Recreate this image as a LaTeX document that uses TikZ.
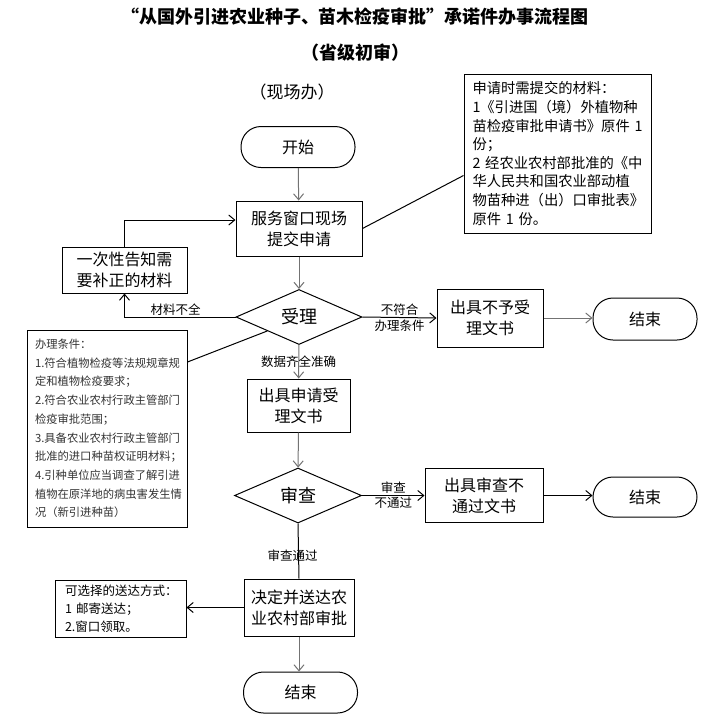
\documentclass[tikz,border=0pt]{standalone}
\usepackage{fontspec}
\setmainfont{Noto Sans CJK SC}
\usetikzlibrary{shapes.geometric,arrows.meta,calc}
\begin{document}
\begin{tikzpicture}[x=1pt,y=-1pt,
  box/.style={draw,line width=1pt,inner sep=0pt,align=center,font=\fontsize{16}{21}\selectfont},
  term/.style={box,rounded corners=20pt},
  dia/.style={draw,line width=1pt,diamond,inner sep=0pt,font=\fontsize{18}{22}\selectfont},
  note/.style={draw,line width=1pt,inner sep=0pt,align=left},
  lab/.style={font=\fontsize{12.5}{15}\selectfont,inner sep=1.5pt},
  arr/.style={-{Straight Barb[length=6pt,width=10pt]},line width=1pt},
  garr/.style={arr,draw=black!55},
  ln/.style={line width=1pt}
]
\useasboundingbox (0,0) rectangle (711,721);

\node[font=\fontsize{18}{22}\selectfont\bfseries] (title) at (355,17) {“从国外引进农业种子、苗木检疫审批”承诺件办事流程图};
\node[font=\fontsize{18}{22}\selectfont\bfseries] (sub) at (355,53) {（省级初审）};
\node[font=\fontsize{17}{20}\selectfont] (site) at (292,92) {（现场办）};

\node[term,minimum width=114pt,minimum height=41pt] (start) at (298,147) {开始};
\node[box,minimum width=126pt,minimum height=55pt] (submit) at (299,228.5) {服务窗口现场\\提交申请};
\node[note,minimum width=187pt,minimum height=159pt,text width=170pt,font=\fontsize{14.3}{18.6}\selectfont] (mat) at (557.5,153.5) {申请时需提交的材料：\\
1《引进国（境）外植物种\\
苗检疫审批申请书》原件~1\\
份；\\
2~经农业农村部批准的《中\\
华人民共和国农业部动植\\
物苗种进（出）口审批表》\\
原件~1~份。};
\node[box,minimum width=125pt,minimum height=46pt] (notify) at (124.5,270) {一次性告知需\\要补正的材料};
\node[dia,minimum width=126pt,minimum height=55pt] (accept) at (299,317) {受理};
\node[box,minimum width=106pt,minimum height=58pt] (noaccept) at (490,318) {出具不予受\\理文书};
\node[term,minimum width=104pt,minimum height=42pt] (end1) at (645,319) {结束};
\node[note,minimum width=160pt,minimum height=197pt,text width=144pt,font=\fontsize{11.3}{18.7}\selectfont,text=black!80] (cond) at (107,428.5) {办理条件：\\
1.符合植物检疫等法规规章规\\
定和植物检疫要求；\\
2.符合农业农村行政主管部门\\
检疫审批范围；\\
3.具备农业农村行政主管部门\\
批准的进口种苗权证明材料；\\
4.引种单位应当调查了解引进\\
植物在原洋地的病虫害发生情\\
况（新引进种苗）};
\node[box,minimum width=103pt,minimum height=53pt] (recv) at (298.5,405.5) {出具申请受\\理文书};
\node[dia,minimum width=127pt,minimum height=55pt] (review) at (298,495.5) {审查};
\node[box,minimum width=118pt,minimum height=54pt] (notpass) at (484,495.5) {出具审查不\\通过文书};
\node[term,minimum width=104pt,minimum height=40pt] (end2) at (645,497) {结束};
\node[box,minimum width=110pt,minimum height=57pt] (decide) at (299,607.5) {决定并送达农\\业农村部审批};
\node[note,minimum width=131pt,minimum height=57pt,text width=111pt,font=\fontsize{12.5}{18}\selectfont] (deliver) at (120.5,608.5) {可选择的送达方式：\\
1~邮寄送达；\\
2.窗口领取。};
\node[term,minimum width=114pt,minimum height=41pt] (end3) at (300.5,692.5) {结束};

\draw[garr] (start) -- (submit);
\draw[garr] (submit) -- (accept);
\draw[ln] (submit.east) -- ([yshift=-22pt]mat.west);
\draw[arr] (notify.north) |- ([yshift=8.5pt]submit.west);
\draw[arr] (accept.west) -| node[lab,pos=0.27,above]{材料不全} (notify.south);
\draw[arr] (accept.east) -- node[lab,above]{不符合} node[lab,below]{办理条件} (noaccept.west);
\draw[garr] (noaccept.east) -- (noaccept.east -| end1.west);
\draw[ln] ($(accept.west)!0.5!(accept.south)$) -- ([yshift=66.5pt]cond.east);
\draw[garr] (accept) -- node[lab]{数据齐全准确} (recv);
\draw[garr] (recv) -- (review);
\draw[arr] (review.east) -- node[lab,above]{审查} node[lab,below]{不通过} (notpass.west);
\draw[arr] (notpass.east) -- (notpass.east -| end2.west);
\draw[ln] (review.south) -- node[lab,pos=0.58,xshift=-6pt]{审查通过} (decide.north);
\draw[arr] (decide.west) -- (decide.west -| deliver.east);
\draw[garr] (decide.south) -- (decide.south |- end3.north);
\end{tikzpicture}
\end{document}
